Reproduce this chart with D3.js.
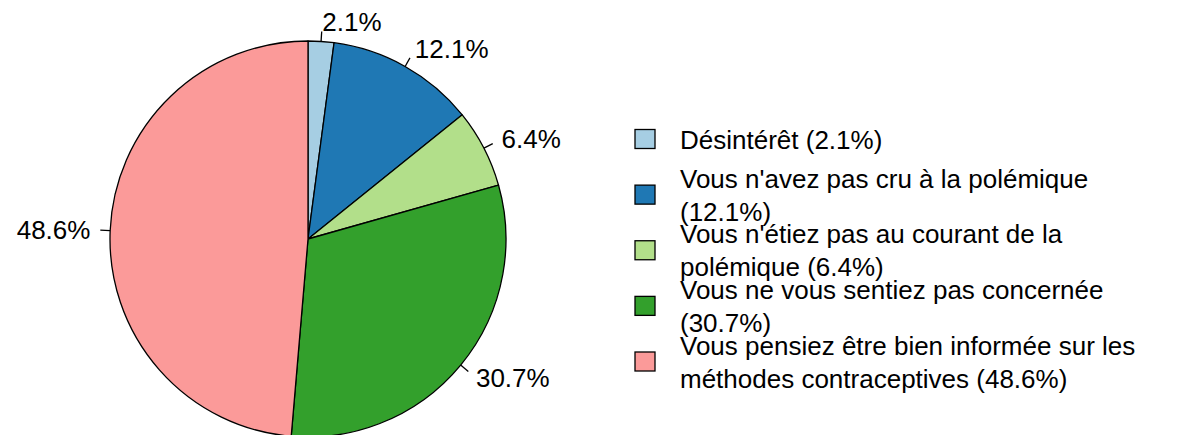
<!DOCTYPE html>
<html>
<head>
<meta charset="utf-8">
<script src="https://cdn.jsdelivr.net/npm/d3@7"></script>
<style>
  body { margin: 0; background: #fff; }
  text { font-family: "Liberation Sans", Arial, sans-serif; fill: #000; }
</style>
</head>
<body>
<div id="chart"></div>
<script>
// data
var categories = [
  "Désintérêt",
  "Vous n'avez pas cru à la polémique",
  "Vous n'étiez pas au courant de la polémique",
  "Vous ne vous sentiez pas concernée",
  "Vous pensiez être bien informée sur les méthodes contraceptives"
];
var values = [2.1, 12.1, 6.4, 30.7, 48.6];
var sliceLabels = ["2.1%", "12.1%", "6.4%", "30.7%", "48.6%"];
// legend text as it wraps in the picture
var legendLines = [
  ["Désintérêt (2.1%)"],
  ["Vous n'avez pas cru à la polémique", "(12.1%)"],
  ["Vous n'étiez pas au courant de la", "polémique (6.4%)"],
  ["Vous ne vous sentiez pas concernée", "(30.7%)"],
  ["Vous pensiez être bien informée sur les", "méthodes contraceptives (48.6%)"]
];
var colors = ["#A6CEE3", "#1F78B4", "#B2DF8A", "#33A02C", "#FB9A99"];

var width = 1188, height = 435;
var cx = 308, cy = 239, radius = 198;

var svg = d3.select("#chart")
  .append("svg")
    .attr("width", width)
    .attr("height", height);

svg.append("rect")
  .attr("width", width)
  .attr("height", height)
  .attr("fill", "#fff");

var pie = d3.pie()
  .sort(null)
  .value(function(d) { return d; })
  .startAngle(0)
  .endAngle(2 * Math.PI);

var arcs = pie(values);

var arc = d3.arc()
  .innerRadius(0)
  .outerRadius(radius);

var g = svg.append("g")
  .attr("transform", "translate(" + cx + "," + cy + ")");

g.selectAll("path")
  .data(arcs)
  .enter()
  .append("path")
    .attr("d", arc)
    .attr("fill", function(d, i) { return colors[i]; })
    .attr("stroke", "#000")
    .attr("stroke-width", 1.3)
    .attr("stroke-linejoin", "round");

// ticks and labels, the way base R pie() places them
function pt(d, r) {
  var a = (d.startAngle + d.endAngle) / 2;
  return [Math.sin(a) * r, -Math.cos(a) * r];
}

g.selectAll("line.tick")
  .data(arcs)
  .enter()
  .append("line")
    .attr("class", "tick")
    .attr("x1", function(d) { return pt(d, radius)[0]; })
    .attr("y1", function(d) { return pt(d, radius)[1]; })
    .attr("x2", function(d) { return pt(d, radius * 1.05)[0]; })
    .attr("y2", function(d) { return pt(d, radius * 1.05)[1]; })
    .attr("stroke", "#000")
    .attr("stroke-width", 1.3);

g.selectAll("text.lbl")
  .data(arcs)
  .enter()
  .append("text")
    .attr("class", "lbl")
    .attr("x", function(d) { return pt(d, radius * 1.1)[0]; })
    .attr("y", function(d) { return pt(d, radius * 1.1)[1]; })
    .attr("dy", "0.35em")
    .attr("text-anchor", function(d) { return pt(d, 1)[0] < 0 ? "end" : "start"; })
    .style("font-size", "26px")
    .text(function(d, i) { return sliceLabels[i]; });

// legend
var ly = d3.scaleLinear()
  .domain([0, categories.length - 1])
  .range([139, 361.5]);

var lineH = 33;

var items = svg.append("g")
  .selectAll("g")
  .data(categories)
  .enter()
  .append("g")
    .attr("transform", function(d, i) { return "translate(0," + ly(i) + ")"; });

items.append("rect")
  .attr("x", 635)
  .attr("y", -9.5)
  .attr("width", 20)
  .attr("height", 19)
  .attr("fill", function(d, i) { return colors[i]; })
  .attr("stroke", "#000")
  .attr("stroke-width", 1.3);

items.each(function(d, i) {
  var lines = legendLines[i];
  d3.select(this).selectAll("text")
    .data(lines)
    .enter()
    .append("text")
      .attr("x", 680)
      .attr("y", function(t, j) { return 9.5 + (j - (lines.length - 1) / 2) * lineH; })
      .style("font-size", "26px")
      .text(function(t) { return t; });
});
</script>
</body>
</html>
